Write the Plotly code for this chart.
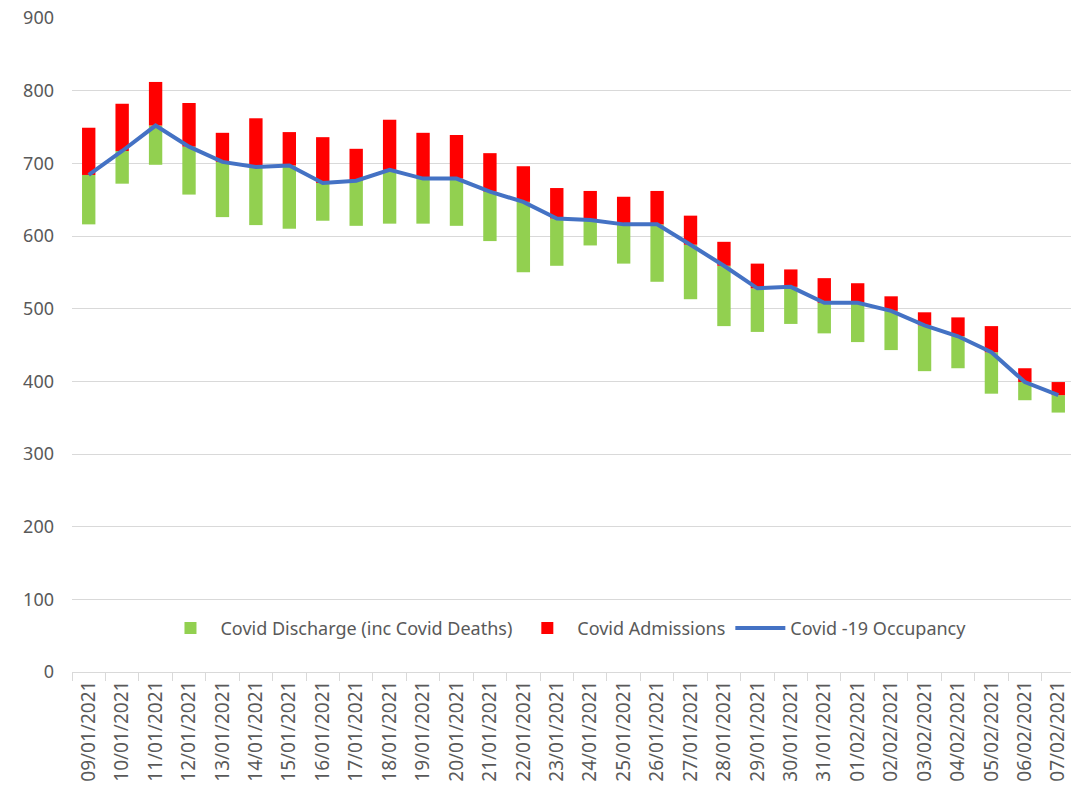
import plotly.graph_objects as go

dates = ["09/01/2021","10/01/2021","11/01/2021","12/01/2021","13/01/2021","14/01/2021",
         "15/01/2021","16/01/2021","17/01/2021","18/01/2021","19/01/2021","20/01/2021",
         "21/01/2021","22/01/2021","23/01/2021","24/01/2021","25/01/2021","26/01/2021",
         "27/01/2021","28/01/2021","29/01/2021","30/01/2021","31/01/2021","01/02/2021",
         "02/02/2021","03/02/2021","04/02/2021","05/02/2021","06/02/2021","07/02/2021"]

occupancy = [684, 717, 752, 723, 702, 695, 697, 673, 676, 691, 679, 679,
             661, 647, 624, 622, 616, 616, 588, 559, 528, 530, 508, 508,
             497, 477, 462, 440, 399, 381]

admissions = [65, 65, 60, 60, 40, 67, 46, 63, 44, 69, 63, 60,
              53, 49, 42, 40, 38, 46, 40, 33, 34, 24, 34, 27,
              20, 18, 26, 36, 19, 18]

discharges = [68, 45, 54, 66, 76, 80, 87, 52, 62, 74, 62, 65,
              68, 97, 65, 35, 54, 79, 75, 83, 60, 51, 42, 54,
              54, 63, 44, 57, 25, 24]

green_base = [o - d for o, d in zip(occupancy, discharges)]

fig = go.Figure()
fig.add_trace(go.Bar(x=dates, y=discharges, base=green_base,
                     name="Covid Discharge (inc Covid Deaths)",
                     marker=dict(color="#92D050", line=dict(width=0)), width=0.4))
fig.add_trace(go.Bar(x=dates, y=admissions, base=occupancy,
                     name="Covid Admissions",
                     marker=dict(color="#FF0000", line=dict(width=0)), width=0.4))
fig.add_trace(go.Scatter(x=dates, y=occupancy, mode="lines",
                         name="Covid -19 Occupancy",
                         line=dict(color="#4472C4", width=4)))

font_fam = "Noto Sans, Liberation Sans, sans-serif"
fig.update_layout(
    width=1079, height=791,
    margin=dict(l=64, r=12, t=10, b=127),
    plot_bgcolor="white", paper_bgcolor="white",
    barmode="overlay",
    font=dict(family=font_fam, size=18, color="#595959"),
    showlegend=True,
    legend=dict(orientation="h", x=0.4925, xanchor="center", y=0.067, yanchor="middle",
                font=dict(family=font_fam, size=18, color="#595959"),
                bgcolor="rgba(0,0,0,0)", itemwidth=50, traceorder="normal"),
)
fig.update_xaxes(type="category", tickangle=-90, showgrid=False, automargin=False,
                 showline=True, linecolor="#D9D9D9", linewidth=1,
                 ticks="outside", tickson="boundaries", ticklen=8, tickcolor="#D9D9D9",
                 ticklabeloverflow="allow",
                 tickfont=dict(family=font_fam, size=19, color="#595959"))
fig.update_yaxes(range=[0, 900], dtick=100, showgrid=True, gridcolor="#D9D9D9",
                 gridwidth=1, zeroline=False, showline=False, ticks="", automargin=False,
                 ticklabeloverflow="allow",
                 tickfont=dict(family=font_fam, size=18, color="#595959"),
                 ticklabelstandoff=17)

fig.write_html("out.html")
